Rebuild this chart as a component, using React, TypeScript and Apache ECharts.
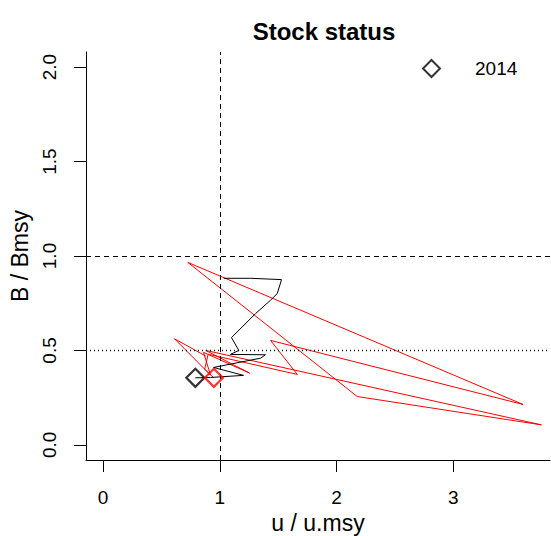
import React, { useEffect, useRef } from "react";
import * as echarts from "echarts";

// Relative fishing mortality (u / u.msy) and biomass (B / Bmsy) trajectories
const blackU = [1.034, 1.263, 1.529, 1.492, 1.435, 1.306, 1.1, 1.163, 1.091, 1.391, 1.349, 0.946, 1.203, 0.92, 0.79];
const blackB = [0.882, 0.882, 0.875, 0.801, 0.766, 0.695, 0.568, 0.5, 0.479, 0.477, 0.459, 0.41, 0.368, 0.357, 0.355];

const redU = [0.88, 0.611, 0.92, 0.86, 1.255, 0.88, 3.757, 2.178, 0.726, 3.599, 1.435, 1.664, 0.9, 0.87, 0.949];
const redB = [0.47, 0.562, 0.37, 0.49, 0.38, 0.5, 0.106, 0.256, 0.966, 0.214, 0.553, 0.373, 0.48, 0.4, 0.355];

const lastYear = "2014";
const xTicks = [0, 1, 2, 3];
const yTicks = [0, 0.5, 1, 1.5, 2];

const FONT = "Liberation Sans, Arial, sans-serif";

export default function App() {
  const ref = useRef<HTMLDivElement>(null);

  useEffect(() => {
    if (!ref.current) return;
    const chart = echarts.init(ref.current, null, { renderer: "svg" });

    const blackPath = blackU.map((u, i) => [u, blackB[i]]);
    const redPath = redU.map((u, i) => [u, redB[i]]);
    const blackLast = blackPath[blackPath.length - 1];
    const redLast = redPath[redPath.length - 1];

    chart.setOption({
      animation: false,
      backgroundColor: "#fff",
      textStyle: { fontFamily: FONT },
      title: {
        text: "Stock status",
        left: 319,
        textAlign: "center",
        top: 14,
        textStyle: { fontFamily: FONT, fontSize: 24, fontWeight: "bold", color: "#000" },
      },
      legend: {
        left: 417,
        top: 54,
        itemWidth: 17,
        itemHeight: 17,
        textStyle: { fontFamily: FONT, fontSize: 19, color: "#000", padding: [0, 0, 0, 30] },
        data: [
          {
            name: lastYear,
            icon: "diamond",
            itemStyle: { color: "transparent", borderColor: "#000", borderWidth: 2 },
          },
        ],
      },
      grid: { left: 86, top: 52, width: 464, height: 408, containLabel: false, outerBoundsMode: "none" },
      xAxis: {
        type: "value",
        min: -0.147,
        max: 3.83,
        name: "u / u.msy",
        nameLocation: "middle",
        nameGap: 47,
        nameTextStyle: { fontFamily: FONT, fontSize: 23, color: "#000" },
        splitLine: { show: false },
        axisLine: { show: true, onZero: false, lineStyle: { color: "#000", width: 1 } },
        axisTick: { show: true, inside: false, length: 12, customValues: xTicks, lineStyle: { color: "#000" } },
        axisLabel: {
          customValues: xTicks,
          margin: 28,
          fontFamily: FONT,
          fontSize: 19,
          color: "#000",
        },
      },
      yAxis: {
        type: "value",
        min: -0.08,
        max: 2.08,
        name: "B / Bmsy",
        nameLocation: "middle",
        nameRotate: 90,
        nameGap: 55,
        nameTextStyle: { fontFamily: FONT, fontSize: 23, color: "#000" },
        splitLine: { show: false },
        axisLine: { show: true, onZero: false, lineStyle: { color: "#000", width: 1 } },
        axisTick: { show: true, inside: false, length: 12, customValues: yTicks, lineStyle: { color: "#000" } },
        axisLabel: {
          customValues: yTicks,
          rotate: 90,
          margin: 27,
          fontFamily: FONT,
          fontSize: 19,
          color: "#000",
          formatter: (v: number) => v.toFixed(1),
        },
      },
      series: [
        {
          name: "reference",
          type: "line",
          data: [],
          silent: true,
          markLine: {
            silent: true,
            symbol: "none",
            label: { show: false },
            data: [
              { xAxis: 1, lineStyle: { color: "#000", type: [5, 4], width: 1 } },
              { yAxis: 1, lineStyle: { color: "#000", type: [5, 4], width: 1 } },
              { yAxis: 0.5, lineStyle: { color: "#000", type: [1, 3], width: 1.3 } },
            ],
          },
        },
        {
          name: "alt path",
          type: "line",
          data: redPath,
          showSymbol: false,
          symbol: "none",
          lineStyle: { color: "#ff0000", width: 1 },
          z: 3,
        },
        {
          name: "path",
          type: "line",
          data: blackPath,
          showSymbol: false,
          symbol: "none",
          lineStyle: { color: "#000", width: 1 },
          z: 4,
        },
        {
          name: lastYear,
          type: "scatter",
          data: [blackLast],
          symbol: "diamond",
          symbolSize: 18,
          itemStyle: { color: "transparent", borderColor: "#000", borderWidth: 2.2 },
          z: 5,
        },
        {
          name: "alt " + lastYear,
          type: "scatter",
          data: [redLast],
          symbol: "diamond",
          symbolSize: 18,
          itemStyle: { color: "transparent", borderColor: "#ff0000", borderWidth: 2.2 },
          z: 5,
        },
      ],
    });

    return () => chart.dispose();
  }, []);

  return <div ref={ref} style={{ width: 551, height: 536, position: "absolute", left: 0, top: 0 }} />;
}
